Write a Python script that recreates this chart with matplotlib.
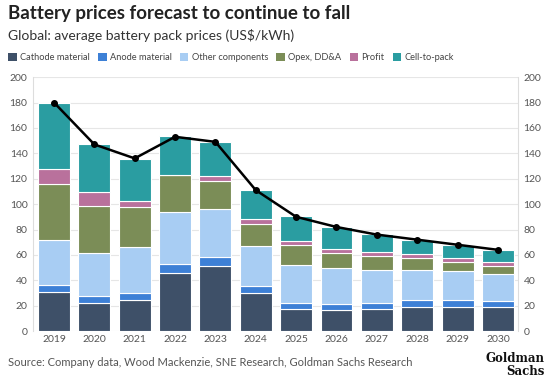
"""Battery pack price forecast: stacked cost components with total line."""
import numpy as np
import matplotlib
matplotlib.use('Agg')
import matplotlib.pyplot as plt
from matplotlib.patches import Patch

plt.rcParams['font.family'] = ['Lato', 'DejaVu Sans']

years = ['2019', '2020', '2021', '2022', '2023', '2024',
         '2025', '2026', '2027', '2028', '2029', '2030']

# component sizes (US$/kWh)
cathode = [31, 22.4, 24.2, 45.5, 51.3, 29.7, 17.4, 16.6, 17.4, 18.7, 18.7, 18.7]
anode = [5.5, 5.2, 6.1, 7.4, 6.9, 5.6, 5.0, 5.0, 5.0, 5.5, 5.5, 5.3]
other = [35.1, 33.7, 35.7, 40.8, 37.6, 31.5, 29.4, 28.1, 25.5, 24.2, 22.9, 21.3]
opex = [44.4, 37.4, 32.0, 28.9, 22.4, 17.7, 15.8, 12.1, 11.3, 9.0, 7.6, 6.0]
profit = [11.6, 10.8, 4.6, 0.0, 3.8, 3.5, 3.4, 3.2, 2.8, 3.1, 3.2, 3.2]
cell_to_pack = [52.4, 37.9, 33.2, 31.1, 27.0, 22.8, 19.5, 16.6, 14.3, 11.5, 9.7, 9.2]
total = [180, 147, 136, 153, 149, 111, 90, 82, 76, 72, 68, 64]

series = [
    ('Cathode material', cathode, '#3e5068'),
    ('Anode material', anode, '#3d80d6'),
    ('Other components', other, '#a8cdf3'),
    ('Opex, DD&A', opex, '#7b8d57'),
    ('Profit', profit, '#b9719c'),
    ('Cell-to-pack', cell_to_pack, '#2a9da1'),
]

fig = plt.figure(figsize=(5.5, 3.78), dpi=100)
ax = fig.add_axes([0.06, 0.124, 0.882, 0.672])

x = np.arange(len(years))
bottom = np.zeros(len(years))
for name, vals, color in series:
    ax.bar(x, vals, width=0.79, bottom=bottom, color=color,
           edgecolor='white', linewidth=0.8, zorder=2)
    bottom += np.array(vals)

ax.plot(x, total, color='black', linewidth=1.8, marker='o',
        markersize=4, zorder=3)

ax.set_xlim(-0.52, 11.5)
ax.set_ylim(0, 200)
ax.set_yticks(range(0, 201, 20))
ax.set_xticks(x)
ax.set_xticklabels(years)
ax.tick_params(axis='both', length=0, labelsize=7.5, colors='#555555')
ax.tick_params(axis='x', pad=3)
ax.tick_params(axis='y', labelright=True, pad=4)
ax.grid(axis='y', color='#e6e6e6', linewidth=0.8, zorder=0)
for side in ['top', 'bottom']:
    ax.spines[side].set_visible(False)
for side in ['left', 'right']:
    ax.spines[side].set_color('#dddddd')
    ax.spines[side].set_linewidth(0.8)

fig.text(0.014, 0.965, 'Battery prices forecast to continue to fall',
         fontsize=13.5, fontweight='bold', color='#222222', va='center')
fig.text(0.014, 0.905, 'Global: average battery pack prices (US$/kWh)',
         fontsize=10, color='#333333', va='center')

handles = [Patch(facecolor=c, edgecolor='none') for _, _, c in series]
labels = [n for n, _, _ in series]
fig.legend(handles, labels, loc='center left', bbox_to_anchor=(0.0, 0.848),
           ncol=6, frameon=False, fontsize=6.7, handlelength=0.9,
           handleheight=0.9, handletextpad=0.35, columnspacing=0.9,
           labelcolor='#444444')

fig.text(0.014, 0.04, 'Source: Company data, Wood Mackenzie, SNE Research, '
         'Goldman Sachs Research', fontsize=8, color='#555555', va='center')
fig.text(0.99, 0.068, 'Goldman\nSachs', fontsize=8.5, fontweight='bold',
         family='DejaVu Serif', color='#111111', ha='right', va='top',
         linespacing=0.95)

fig.savefig('out.png', dpi=100)
